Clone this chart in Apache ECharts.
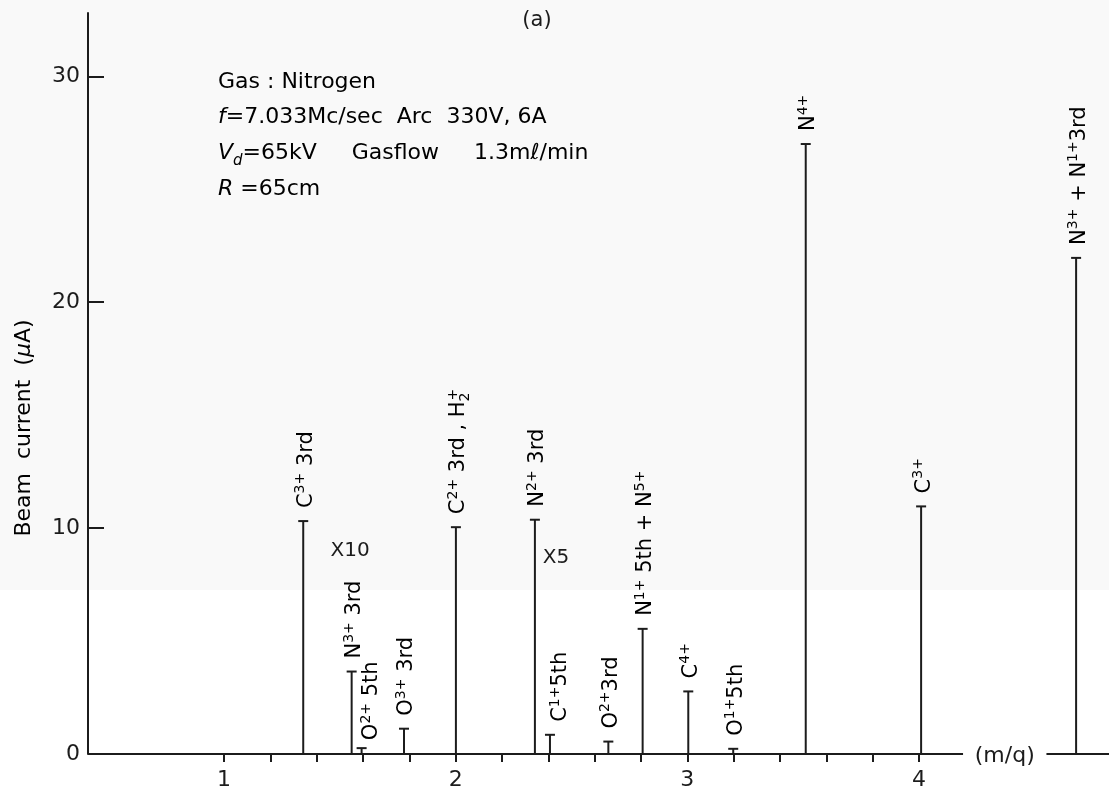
<!DOCTYPE html>
<html>
<head>
<meta charset="utf-8">
<title>Beam current spectrum</title>
<script src="https://cdn.jsdelivr.net/npm/echarts@6/dist/echarts.min.js"></script>
<style>
  html, body { margin: 0; padding: 0; background: #ffffff; }
  #chart { width: 1109px; height: 796px; }
</style>
</head>
<body>
<div id="chart"></div>
<script>
// Peak positions (m/q) and beam currents (µA) of the identified ion species
const peakMq      = [1.342, 1.551, 1.594, 1.777, 2.001, 2.342, 2.407, 2.659, 2.807, 3.004, 3.198, 3.511, 4.009, 4.678];
const peakCurrent = [10.31, 3.65, 0.26, 1.12, 10.04, 10.37, 0.85, 0.55, 5.54, 2.77, 0.23, 27.0, 10.96, 21.96];
// Species labels (rich-text markup: n = normal, s = superscript, b = subscript)
const peakLabels = [
  '{n|C}{s|3+}{n| 3rd}',
  '{n|N}{s|3+}{n| 3rd}',
  '{n|O}{s|2+}{n| 5th}',
  '{n|O}{s|3+}{n| 3rd}',
  '{n|C}{s|2+}{n| 3rd , H}{b|2}{s|+}',
  '{n|N}{s|2+}{n| 3rd}',
  '{n|C}{s|1+}{n|5th}',
  '{n|O}{s|2+}{n|3rd}',
  '{n|N}{s|1+}{n| 5th + N}{s|5+}',
  '{n|C}{s|4+}',
  '{n|O}{s|1+}{n|5th}',
  '{n|N}{s|4+}',
  '{n|C}{s|3+}',
  '{n|N}{s|3+}{n| + N}{s|1+}{n|3rd}'
];
// Gain factors written beside the weak peaks
const scaleNotes = [
  { text: 'X10', mq: 1.544, current: 9.01 },
  { text: 'X5',  mq: 2.433, current: 8.70 }
];
// Axis ranges and ticks
const mqRange      = [0.413, 4.82];
const mqAxisGap    = [4.19, 4.55];
const xTickValues  = [1.0, 1.2, 1.4, 1.6, 1.8, 2.0, 2.2, 2.4, 2.6, 2.8, 3.0, 3.2, 3.4, 3.6, 3.8, 4.0];
const xLabelValues = [1, 2, 3, 4];
const currentMax   = 32.8;
const yTickValues  = [0, 10, 20, 30];

const INK = '#1c1c1c';
const FONT = '"DejaVu Sans", "Liberation Sans", sans-serif';

// small per-label shifts where neighbouring peaks crowd the text
const labelNudge = { 2: [7, 5], 6: [8, 0] };

const labelRich = {
  n: { fontFamily: FONT, fontSize: 21, color: INK, verticalAlign: 'bottom' },
  s: { fontFamily: FONT, fontSize: 14, color: INK, verticalAlign: 'bottom', padding: [0, 0, 9, 0] },
  b: { fontFamily: FONT, fontSize: 14, color: INK, verticalAlign: 'bottom', padding: [0, 0, -3, 0], width: 1 }
};

const blockRich = {
  n:  { fontFamily: FONT, fontSize: 22, color: INK, verticalAlign: 'bottom', padding: [0, 0, 4, 0] },
  i:  { fontFamily: FONT, fontSize: 22, fontStyle: 'italic', color: INK, verticalAlign: 'bottom', padding: [0, 0, 4, 0] },
  sb: { fontFamily: FONT, fontSize: 15, fontStyle: 'italic', color: INK, verticalAlign: 'bottom', padding: [0, 0, 0, 0] }
};

const blockLines = [
  '{n|Gas : Nitrogen}',
  '{i|f}{n|=7.033Mc/sec  Arc  330V, 6A}',
  '{i|V}{sb|d}{n|=65kV     Gasflow     1.3mℓ/min}',
  '{i|R}{n| =65cm}'
];
const blockTop = 84, blockStep = 35.7;

const chart = echarts.init(document.getElementById('chart'), null, { renderer: 'canvas' });

const option = {
  animation: false,
  backgroundColor: '#ffffff',
  grid: { left: 88, right: 0, top: 13, bottom: 42, containLabel: false },
  xAxis: {
    type: 'value',
    min: mqRange[0],
    max: mqRange[1],
    axisLine: { show: false },
    splitLine: { show: false },
    axisTick: {
      show: true, inside: false, length: 8,
      customValues: xTickValues,
      lineStyle: { color: INK, width: 2 }
    },
    axisLabel: {
      customValues: xLabelValues,
      margin: 15,
      color: INK, fontFamily: FONT, fontSize: 22
    }
  },
  yAxis: {
    type: 'value',
    min: 0,
    max: currentMax,
    axisLine: { show: true, lineStyle: { color: INK, width: 2 } },
    splitLine: { show: false },
    axisTick: {
      show: true, inside: true, length: 16,
      customValues: yTickValues,
      lineStyle: { color: INK, width: 2 }
    },
    axisLabel: {
      customValues: yTickValues,
      margin: 8,
      color: INK, fontFamily: FONT, fontSize: 22
    }
  },
  graphic: [
    { type: 'rect', z: -10, silent: true, shape: { x: 0, y: 0, width: 1109, height: 590 }, style: { fill: '#f9f9f9' } },
    {
      type: 'text', x: 537, y: 21, silent: true,
      style: { text: '(a)', fontFamily: FONT, fontSize: 21, fill: INK, align: 'center', verticalAlign: 'middle' }
    },
    {
      type: 'text', x: 24, y: 428, rotation: Math.PI / 2, silent: true,
      style: {
        text: '{n|Beam  current  (}{i|μ}{n|A)}',
        align: 'center', verticalAlign: 'middle',
        rich: {
          n: { fontFamily: FONT, fontSize: 22, color: INK },
          i: { fontFamily: FONT, fontSize: 22, fontStyle: 'italic', color: INK }
        }
      }
    }
  ].concat(blockLines.map((t, k) => ({
    type: 'text', x: 218, y: blockTop + k * blockStep, silent: true,
    style: { text: t, rich: blockRich, align: 'left', verticalAlign: 'middle' }
  }))),
  series: [
    {
      // m/q baseline, interrupted for the axis name
      type: 'custom',
      name: 'baseline',
      silent: true,
      data: [[0]],
      renderItem: function (params, api) {
        const a = api.coord([mqRange[0], 0]);
        const b = api.coord([mqAxisGap[0], 0]);
        const c = api.coord([mqAxisGap[1], 0]);
        const d = api.coord([mqRange[1], 0]);
        return {
          type: 'group',
          children: [
            { type: 'line', shape: { x1: a[0], y1: a[1], x2: b[0], y2: b[1] }, style: { stroke: INK, lineWidth: 2 } },
            { type: 'line', shape: { x1: c[0], y1: c[1], x2: d[0], y2: d[1] }, style: { stroke: INK, lineWidth: 2 } },
            {
              type: 'text', x: (b[0] + c[0]) / 2, y: b[1] + 2,
              style: { text: '(m/q)', fontFamily: FONT, fontSize: 22, fill: INK, align: 'center', verticalAlign: 'middle' }
            }
          ]
        };
      }
    },
    {
      // ion peaks: stem with a cap, species written upward above it
      type: 'custom',
      name: 'peaks',
      silent: true,
      data: peakMq.map((m, k) => [m, peakCurrent[k]]),
      renderItem: function (params, api) {
        const k = params.dataIndex;
        const base = api.coord([api.value(0), 0]);
        const top = api.coord([api.value(0), api.value(1)]);
        const nudge = labelNudge[k] || [0, 0];
        return {
          type: 'group',
          children: [
            { type: 'line', shape: { x1: base[0], y1: base[1], x2: top[0], y2: top[1] }, style: { stroke: INK, lineWidth: 2 } },
            { type: 'line', shape: { x1: top[0] - 5, y1: top[1], x2: top[0] + 5, y2: top[1] }, style: { stroke: INK, lineWidth: 2 } },
            {
              type: 'text',
              x: top[0] + nudge[0] + 2,
              y: top[1] - 13 + nudge[1],
              rotation: Math.PI / 2,
              style: { text: peakLabels[k], rich: labelRich, align: 'left', verticalAlign: 'middle' }
            }
          ]
        };
      }
    },
    {
      type: 'custom',
      name: 'gain',
      silent: true,
      data: scaleNotes.map(n => [n.mq, n.current]),
      renderItem: function (params, api) {
        const p = api.coord([api.value(0), api.value(1)]);
        return {
          type: 'text', x: p[0], y: p[1],
          style: {
            text: scaleNotes[params.dataIndex].text,
            fontFamily: FONT, fontSize: 20, fill: INK, align: 'center', verticalAlign: 'middle'
          }
        };
      }
    }
  ]
};

chart.setOption(option);
</script>
</body>
</html>
